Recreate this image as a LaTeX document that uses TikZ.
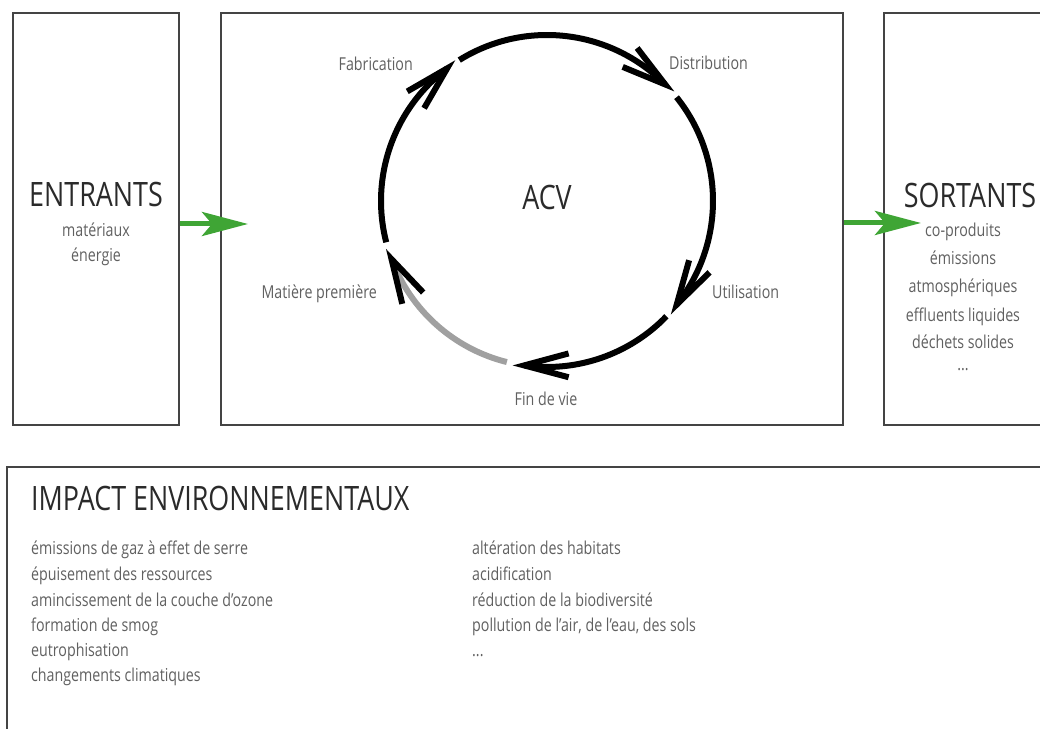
\documentclass[tikz,border=0pt]{standalone}
\usepackage{fontspec}
\setmainfont{Open Sans}[FakeStretch=0.8]
\usetikzlibrary{arrows.meta,calc}
\definecolor{boxline}{HTML}{444444}
\definecolor{titlec}{HTML}{2A2A2A}
\definecolor{textc}{HTML}{606060}
\definecolor{arrowgreen}{HTML}{3FA535}
\definecolor{cyclegray}{HTML}{A0A0A0}
\begin{document}
\begin{tikzpicture}[x=1pt,y=1pt,
  panel/.style={draw=boxline, line width=1.4pt, inner sep=0pt},
  title/.style={text=titlec, font=\fontsize{33.6}{34}\selectfont, inner sep=0pt},
  item/.style={text=textc, font=\fontsize{17.8}{18}\selectfont, inner sep=0pt},
  flow/.style={draw=arrowgreen, line width=5pt, -{Stealth[length=46pt,width=24pt,inset=10pt]}},
  cycline/.style={line width=6pt, draw=black},
  barb/.style={line width=6pt, draw=black, line join=miter},
]
\useasboundingbox (0,0) rectangle (1040,728);
\begin{scope}
\clip (0,0) rectangle (1040,728);
% panels
\node[panel, minimum width=166, minimum height=412] (entrants) at (96,509) {};
\node[panel, minimum width=622, minimum height=412] (acv) at (532,509) {};
\node[panel, minimum width=216, minimum height=412] (sortants) at (992,509) {};
\node[panel, minimum width=1093, minimum height=311] (impact) at (553.5,105.5) {};

% titles
\node[title, anchor=base] (entrantsT) at (96,521) {ENTRANTS};
\node[title, anchor=base] (acvT) at (547,518) {ACV};
\node[title, anchor=base] (sortantsT) at (970,520) {SORTANTS};
\node[title, anchor=base west] (impactT) at (31,217) {IMPACT ENVIRONNEMENTAUX};

% entrants items
\node[item, anchor=base] (e1) at (96,491) {matériaux};
\node[item, anchor=base] (e2) at (96,466) {énergie};

% sortants items
\node[item, anchor=base] (s1) at (963,491) {co-produits};
\node[item, anchor=base] (s2) at (963,463) {émissions};
\node[item, anchor=base] (s3) at (963,435) {atmosphériques};
\node[item, anchor=base] (s4) at (963,406) {effluents liquides};
\node[item, anchor=base] (s5) at (963,379) {déchets solides};
\node[item, anchor=base] (s6) at (963,357) {...};

% impact lists
\node[item, anchor=base west] (l1) at (31,174) {émissions de gaz à effet de serre};
\node[item, anchor=base west] (l2) at (31,148) {épuisement des ressources};
\node[item, anchor=base west] (l3) at (31,122) {amincissement de la couche d'ozone};
\node[item, anchor=base west] (l4) at (31,97) {formation de smog};
\node[item, anchor=base west] (l5) at (31,72) {eutrophisation};
\node[item, anchor=base west] (l6) at (31,47) {changements climatiques};
\node[item, anchor=base west] (r1) at (472,174) {altération des habitats};
\node[item, anchor=base west] (r2) at (472,148) {acidification};
\node[item, anchor=base west] (r3) at (472,122) {réduction de la biodiversité};
\node[item, anchor=base west] (r4) at (472,97) {pollution de l'air, de l'eau, des sols};
\node[item, anchor=base west] (r5) at (472,72) {...};

% cycle labels
\node[item, anchor=base east] (fab) at (413,657) {Fabrication};
\node[item, anchor=base west] (dist) at (669,658) {Distribution};
\node[item, anchor=base east] (mat) at (377,429) {Matière première};
\node[item, anchor=base west] (util) at (712,429) {Utilisation};
\node[item, anchor=base] (fin) at (546,322) {Fin de vie};

% cycle
\coordinate (C) at (547,527);
% tips (t) and points further back on the circle (p)
\coordinate (t1) at ([shift={(127:166)}]C);   \coordinate (p1) at ([shift={(143:166)}]C);
\coordinate (t2) at ([shift={(44.6:166)}]C);  \coordinate (p2) at ([shift={(60.6:166)}]C);
\coordinate (t3) at ([shift={(-38.6:166)}]C); \coordinate (p3) at ([shift={(-22.6:166)}]C);
\coordinate (t4) at ([shift={(-97.9:166)}]C); \coordinate (p4) at ([shift={(-81.9:166)}]C);
\coordinate (t5) at ([shift={(-159.5:166)}]C);\coordinate (p5) at ([shift={(-143.5:166)}]C);

\draw[cycline] ([shift={(194.4:166)}]C) arc[start angle=194.4, end angle=127, radius=166];
\draw[cycline] ([shift={(121.9:166)}]C) arc[start angle=121.9, end angle=44.6, radius=166];
\draw[cycline] ([shift={(38.7:166)}]C) arc[start angle=38.7, end angle=-38.6, radius=166];
\draw[cycline] ([shift={(-44:166)}]C) arc[start angle=-44, end angle=-97.9, radius=166];
\draw[cycline, draw=cyclegray] ([shift={(-104:166)}]C) arc[start angle=-104, end angle=-159.5, radius=166];

\draw[barb] ($(t1)!46pt!15:(p1)$) -- (t1) -- ($(t1)!46pt!-15:(p1)$);
\draw[barb] ($(t2)!46pt!15:(p2)$) -- (t2) -- ($(t2)!46pt!-15:(p2)$);
\draw[barb] ($(t3)!46pt!15:(p3)$) -- (t3) -- ($(t3)!46pt!-15:(p3)$);
\draw[barb] ($(t4)!46pt!15:(p4)$) -- (t4) -- ($(t4)!46pt!-15:(p4)$);
\draw[barb] ($(t5)!46pt!15:(p5)$) -- (t5) -- ($(t5)!46pt!-15:(p5)$);

% green flows
\coordinate (intip) at (248,504);
\coordinate (outtip) at (921,505);
\draw[flow] (intip -| entrants.east) -- (intip);
\draw[flow] (outtip -| acv.east) -- (outtip);
\end{scope}
\end{tikzpicture}
\end{document}
